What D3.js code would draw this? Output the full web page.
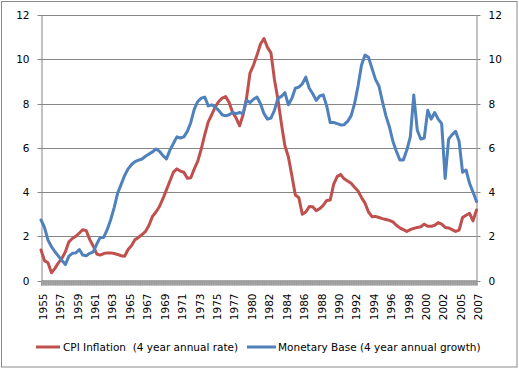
<!DOCTYPE html>
<html>
<head>
<meta charset="utf-8">
<script src="https://cdn.jsdelivr.net/npm/d3@7"></script>
<style>
  html, body { margin: 0; padding: 0; background: #fff; }
  svg { display: block; }
  text { font-family: "DejaVu Sans", Verdana, sans-serif; fill: #000; }
</style>
</head>
<body>
<svg id="chart" width="519" height="369"></svg>
<script>
const yearLabels = ["1955","1957","1959","1961","1963","1965","1967","1969","1971","1973",
  "1975","1977","1980","1982","1984","1986","1988","1990","1992","1994","1996","1998",
  "2000","2002","2005","2007"];

const cpiInflation = [
  1.38,0.90,0.80,0.35,0.55,0.80,1.00,1.30,1.75,1.90,
  2.00,2.15,2.30,2.25,1.85,1.55,1.20,1.15,1.22,1.25,
  1.25,1.22,1.18,1.12,1.10,1.40,1.58,1.85,1.95,2.08,
  2.22,2.50,2.90,3.10,3.35,3.70,4.10,4.50,4.90,5.05,
  4.95,4.90,4.63,4.65,5.05,5.40,5.95,6.60,7.18,7.50,
  7.85,8.10,8.25,8.32,8.05,7.60,7.35,7.00,7.50,8.25,
  9.40,9.75,10.20,10.70,10.95,10.55,10.30,9.10,8.20,7.10,
  6.10,5.60,4.75,3.87,3.75,3.00,3.10,3.35,3.34,3.16,
  3.25,3.40,3.62,3.64,4.35,4.70,4.80,4.60,4.50,4.40,
  4.22,4.05,3.75,3.50,3.10,2.89,2.90,2.85,2.80,2.76,
  2.72,2.65,2.50,2.38,2.30,2.22,2.30,2.36,2.40,2.43,
  2.55,2.45,2.45,2.50,2.62,2.55,2.40,2.38,2.30,2.22,
  2.28,2.85,2.95,3.04,2.70,3.19
];

const monetaryBase = [
  2.74,2.40,1.83,1.53,1.30,1.10,0.90,0.72,1.10,1.23,
  1.25,1.40,1.15,1.12,1.23,1.30,1.65,1.95,1.95,2.30,
  2.75,3.30,3.95,4.35,4.75,5.05,5.25,5.38,5.45,5.50,
  5.62,5.72,5.82,5.95,5.85,5.65,5.50,5.90,6.20,6.50,
  6.45,6.50,6.75,7.15,7.75,8.10,8.25,8.30,7.90,7.95,
  7.85,7.70,7.50,7.45,7.50,7.60,7.55,7.60,7.55,8.15,
  8.05,8.20,8.30,8.00,7.55,7.30,7.35,7.70,8.24,8.33,
  8.50,7.95,8.24,8.70,8.75,8.90,9.20,8.70,8.45,8.15,
  8.35,8.40,7.90,7.15,7.15,7.10,7.04,7.05,7.20,7.45,
  8.00,8.80,9.75,10.20,10.10,9.60,9.10,8.80,8.10,7.45,
  6.95,6.30,5.85,5.45,5.45,5.90,6.50,8.39,6.80,6.40,
  6.45,7.70,7.30,7.60,7.30,7.10,4.62,6.40,6.60,6.75,
  6.30,4.90,5.00,4.40,4.00,3.57
];

const yTicks = [0, 2, 4, 6, 8, 10, 12];
const seriesNames = ["CPI Inflation  (4 year annual rate)", "Monetary Base (4 year annual growth)"];
const seriesColors = ["#C0504D", "#4F81BD"];

// ---- Layout ----
const svg = d3.select("#chart");
const W = 519, H = 369;
const plot = { left: 41, right: 476.5, top: 15.3, bottom: 280.5 };
const labelStep = (cpiInflation.length - 1) / (yearLabels.length - 1);

svg.append("rect")
  .attr("x", 1.5).attr("y", 1.5).attr("width", W - 3.5).attr("height", H - 3.5)
  .attr("fill", "#fff").attr("stroke", "#8a8a8a").attr("stroke-width", 1);

const x = d3.scaleLinear().domain([0, cpiInflation.length - 1]).range([plot.left, plot.right]);
const y = d3.scaleLinear().domain([0, 12]).range([plot.bottom, plot.top]);

// gridlines
svg.append("g")
  .selectAll("line")
  .data(yTicks.filter(d => d > 0))
  .join("line")
  .attr("x1", plot.left).attr("x2", plot.right)
  .attr("y1", d => Math.round(y(d)) + 0.5).attr("y2", d => Math.round(y(d)) + 0.5)
  .attr("stroke", "#868686").attr("stroke-width", 1);

// left axis
const gL = svg.append("g").attr("transform", `translate(${plot.left + 0.5},0)`)
  .call(d3.axisLeft(y).tickValues(yTicks).tickSize(4).tickPadding(8).tickSizeOuter(0));
// right axis
const gR = svg.append("g").attr("transform", `translate(${plot.right},0)`)
  .call(d3.axisRight(y).tickValues(yTicks).tickSize(4).tickPadding(8).tickSizeOuter(0));
[gL, gR].forEach(g => {
  g.selectAll("path.domain").attr("stroke", "#868686");
  g.selectAll(".tick line").attr("stroke", "#868686");
  g.selectAll(".tick text").attr("font-size", 10.5).attr("font-family", "DejaVu Sans").attr("fill", "#000");
  g.selectAll(".tick").attr("transform", d => `translate(0,${Math.round(y(d)) + 0.5})`);
});

// bottom axis: dense minor ticks forming the band
const gB = svg.append("g").attr("transform", `translate(0,${plot.bottom})`)
  .call(d3.axisBottom(x).tickValues(d3.range(0, cpiInflation.length - 0.99, 0.2)).tickSize(5).tickFormat(""));
gB.selectAll("path.domain").attr("stroke", "#8a8a8a");
gB.selectAll(".tick line").attr("stroke", "#9a9a9a").attr("stroke-width", 1);

// bottom axis: year labels
const gLab = svg.append("g").attr("transform", `translate(0,${plot.bottom})`)
  .call(d3.axisBottom(x).tickValues(yearLabels.map((d, i) => i * labelStep))
    .tickSize(0).tickFormat((d, i) => yearLabels[i]));
gLab.select("path.domain").remove();
gLab.selectAll(".tick text")
  .attr("font-size", 10.5).attr("font-family", "DejaVu Sans").attr("fill", "#000")
  .attr("text-anchor", "end")
  .attr("transform", "translate(1.5,13) rotate(-90)")
  .attr("x", 0).attr("y", 0).attr("dy", "0.36em");

// lines
const line = d3.line().x((d, i) => x(i)).y(d => y(d));
[cpiInflation, monetaryBase].forEach((s, k) => {
  svg.append("path")
    .datum(s)
    .attr("d", line)
    .attr("fill", "none")
    .attr("stroke", seriesColors[k])
    .attr("stroke-width", 3)
    .attr("stroke-linejoin", "round")
    .attr("stroke-linecap", "round");
});

// legend
const legendItems = [
  { x0: 36, x1: 60, tx: 63 },
  { x0: 247, x1: 276, tx: 278 }
];
const legendY = 347;
legendItems.forEach((it, k) => {
  svg.append("line")
    .attr("x1", it.x0).attr("x2", it.x1).attr("y1", legendY).attr("y2", legendY)
    .attr("stroke", seriesColors[k]).attr("stroke-width", 3);
  svg.append("text")
    .attr("x", it.tx).attr("y", legendY).attr("dy", "0.36em")
    .attr("font-size", 10.5)
    .attr("xml:space", "preserve")
    .style("white-space", "pre")
    .text(seriesNames[k]);
});
</script>
</body>
</html>
